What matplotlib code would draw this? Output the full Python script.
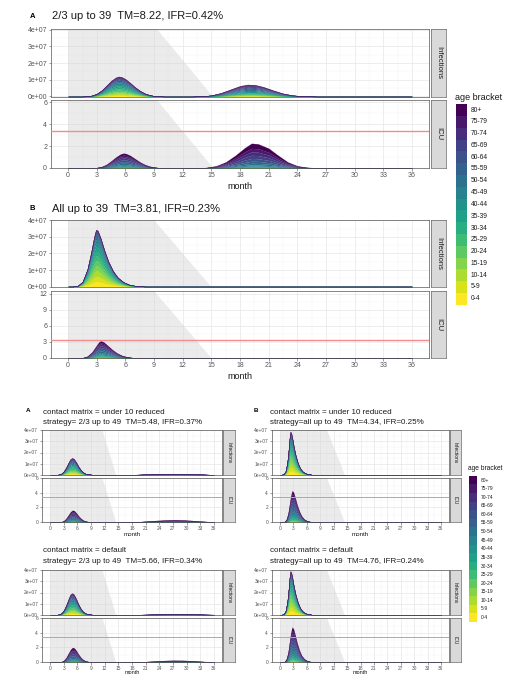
import numpy as np
import matplotlib
matplotlib.use('Agg')
import matplotlib.pyplot as plt
from matplotlib.patches import Polygon, Rectangle
import matplotlib.transforms as mtransforms

plt.rcParams['font.family'] = ['Liberation Sans', 'DejaVu Sans']

W, H = 515, 674

# ---------------- data ----------------
age_brackets = ['0-4', '5-9', '10-14', '15-19', '20-24', '25-29', '30-34', '35-39',
                '40-44', '45-49', '50-54', '55-59', '60-64', '65-69', '70-74', '75-79', '80+']

month_ticks = list(range(0, 37, 3))
inf_ticks = [0, 1, 2, 3, 4]
inf_tick_labels = ['0e+00', '1e+07', '2e+07', '3e+07', '4e+07']
icu_ticks_small = [0, 2, 4, 6]
icu_ticks_big = [0, 3, 6, 9, 12]
icu_capacity = 3.4

# age shares (0-4 ... 80+)
share_inf_mixed = [0.06, 0.06, 0.065, 0.065, 0.07, 0.075, 0.075, 0.075, 0.075, 0.075, 0.07, 0.065, 0.055, 0.045, 0.035, 0.025, 0.03]
share_inf_late = [0.03, 0.03, 0.035, 0.035, 0.045, 0.05, 0.055, 0.06, 0.08, 0.085, 0.09, 0.09, 0.085, 0.075, 0.06, 0.045, 0.05]
share_inf_all = [0.09, 0.09, 0.095, 0.09, 0.09, 0.085, 0.08, 0.075, 0.065, 0.06, 0.05, 0.04, 0.03, 0.025, 0.015, 0.01, 0.01]
share_icu_mixed = [0.002, 0.002, 0.004, 0.006, 0.01, 0.015, 0.025, 0.035, 0.055, 0.075, 0.095, 0.11, 0.12, 0.12, 0.11, 0.09, 0.126]
share_icu_late = [0.001, 0.001, 0.002, 0.003, 0.005, 0.008, 0.012, 0.018, 0.03, 0.045, 0.065, 0.085, 0.11, 0.13, 0.14, 0.14, 0.205]
share_icu_all = [0.005, 0.005, 0.01, 0.015, 0.02, 0.03, 0.04, 0.05, 0.065, 0.08, 0.09, 0.1, 0.105, 0.105, 0.1, 0.08, 0.1]

# Panel A (top): 2/3 up to 39  -- infections in units of 1e7
A_inf_w1_month = [1.5, 2, 2.5, 3, 3.5, 4, 4.5, 5, 5.3, 5.6, 6, 6.5, 7, 7.5, 8, 8.5, 9, 10]
A_inf_w1_total = [0, 0.02, 0.07, 0.18, 0.38, 0.66, 0.95, 1.15, 1.2, 1.17, 1.05, 0.82, 0.57, 0.36, 0.2, 0.1, 0.04, 0]
A_inf_w2_month = [13, 14, 15, 16, 17, 18, 18.8, 19.6, 20.5, 21.5, 22.5, 23.5, 24.5, 26]
A_inf_w2_total = [0, 0.02, 0.08, 0.22, 0.43, 0.64, 0.72, 0.7, 0.57, 0.37, 0.19, 0.08, 0.03, 0]
A_icu_w1_month = [2, 2.5, 3, 3.5, 4, 4.5, 5, 5.5, 5.8, 6.1, 6.5, 7, 7.5, 8, 8.5, 9, 9.5, 10.5]
A_icu_w1_total = [0, 0.01, 0.04, 0.13, 0.33, 0.65, 1.0, 1.28, 1.35, 1.3, 1.14, 0.85, 0.56, 0.33, 0.17, 0.08, 0.03, 0]
A_icu_w2_month = [13.5, 14.5, 15.5, 16.5, 17.5, 18.5, 19.2, 19.9, 21, 22, 23, 24, 25, 26.5]
A_icu_w2_total = [0, 0.05, 0.2, 0.55, 1.15, 1.85, 2.25, 2.2, 1.8, 1.15, 0.55, 0.2, 0.06, 0]

# Panel B (top): all up to 39
B_inf_month = [0.5, 1, 1.5, 2, 2.4, 2.7, 2.9, 3.1, 3.4, 3.8, 4.2, 4.7, 5.2, 5.8, 6.4, 7, 8]
B_inf_total = [0, 0.05, 0.3, 1.05, 2.1, 3.0, 3.45, 3.4, 2.95, 2.2, 1.55, 0.95, 0.55, 0.27, 0.12, 0.05, 0]
B_icu_month = [1, 1.5, 2, 2.5, 2.9, 3.2, 3.4, 3.7, 4.1, 4.6, 5.1, 5.6, 6.1, 6.6, 7.2, 8]
B_icu_total = [0, 0.05, 0.33, 1.15, 2.2, 2.95, 3.2, 3.0, 2.4, 1.6, 0.95, 0.5, 0.24, 0.1, 0.04, 0]

# Lower left, row 1: under 10 reduced, 2/3 up to 49
C1_inf_w1_month = [1.5, 2, 2.5, 3, 3.5, 4, 4.4, 4.8, 5.2, 5.7, 6.2, 6.7, 7.2, 7.8, 8.5, 9.5]
C1_inf_w1_total = [0, 0.03, 0.12, 0.33, 0.68, 1.1, 1.4, 1.52, 1.45, 1.15, 0.78, 0.46, 0.24, 0.1, 0.03, 0]
C1_inf_w2_month = [16, 19, 22, 25, 27, 29, 31, 33, 35]
C1_inf_w2_total = [0, 0.01, 0.04, 0.08, 0.1, 0.09, 0.06, 0.03, 0.01]
C1_icu_w1_month = [2, 2.5, 3, 3.5, 4, 4.5, 4.9, 5.3, 5.8, 6.3, 6.8, 7.3, 7.9, 8.6, 9.5]
C1_icu_w1_total = [0, 0.04, 0.18, 0.5, 0.98, 1.42, 1.62, 1.55, 1.2, 0.8, 0.47, 0.24, 0.1, 0.03, 0]
C1_icu_w2_month = [15, 18, 20, 22, 24, 26, 27.5, 29, 31, 33, 35, 36]
C1_icu_w2_total = [0, 0.02, 0.07, 0.15, 0.24, 0.3, 0.32, 0.3, 0.22, 0.12, 0.05, 0.02]

# Lower left, row 2: default, 2/3 up to 49
C2_inf_w1_month = [1.5, 2, 2.5, 3, 3.5, 4, 4.4, 4.8, 5.2, 5.7, 6.2, 6.7, 7.2, 7.8, 8.5, 9.5]
C2_inf_w1_total = [0, 0.04, 0.16, 0.43, 0.88, 1.42, 1.82, 1.95, 1.85, 1.45, 0.98, 0.58, 0.3, 0.13, 0.04, 0]
C2_inf_w2_month = [17, 20, 23, 26, 28, 30, 32, 34, 36]
C2_inf_w2_total = [0, 0.01, 0.03, 0.06, 0.07, 0.06, 0.04, 0.02, 0.01]
C2_icu_w1_month = [2, 2.5, 3, 3.5, 4, 4.5, 4.9, 5.3, 5.8, 6.3, 6.8, 7.3, 7.9, 8.6, 9.5]
C2_icu_w1_total = [0, 0.05, 0.22, 0.62, 1.2, 1.75, 2.0, 1.92, 1.5, 1.0, 0.58, 0.3, 0.12, 0.04, 0]
C2_icu_w2_month = [16, 19, 21, 23, 25, 27, 29, 31, 33, 35, 36]
C2_icu_w2_total = [0, 0.02, 0.06, 0.13, 0.2, 0.25, 0.24, 0.18, 0.1, 0.04, 0.02]

# Lower right, row 1: under 10 reduced, all up to 49
D1_inf_month = [0.3, 0.8, 1.2, 1.6, 1.9, 2.1, 2.3, 2.5, 2.8, 3.1, 3.5, 4.0, 4.5, 5.0, 5.6, 6.3, 7.2]
D1_inf_total = [0, 0.05, 0.3, 1.1, 2.3, 3.3, 3.9, 3.8, 3.2, 2.5, 1.75, 1.05, 0.6, 0.32, 0.15, 0.05, 0]
D1_icu_month = [0.5, 1, 1.4, 1.8, 2.1, 2.4, 2.7, 3.0, 3.4, 3.8, 4.3, 4.8, 5.4, 6.0, 6.8, 7.5]
D1_icu_total = [0, 0.05, 0.35, 1.2, 2.4, 3.6, 4.3, 4.1, 3.3, 2.4, 1.5, 0.85, 0.4, 0.18, 0.05, 0]

# Lower right, row 2: default, all up to 49
D2_inf_month = [0.3, 0.8, 1.2, 1.6, 1.9, 2.1, 2.3, 2.5, 2.8, 3.1, 3.5, 4.0, 4.5, 5.0, 5.6, 6.3, 7.2]
D2_inf_total = [0, 0.05, 0.32, 1.15, 2.35, 3.35, 3.95, 3.85, 3.25, 2.55, 1.8, 1.1, 0.62, 0.33, 0.15, 0.05, 0]
D2_icu_month = [0.5, 1, 1.4, 1.8, 2.1, 2.4, 2.7, 3.0, 3.4, 3.8, 4.3, 4.8, 5.4, 6.0, 6.8, 7.5]
D2_icu_total = [0, 0.06, 0.4, 1.35, 2.7, 4.0, 4.8, 4.55, 3.65, 2.65, 1.65, 0.92, 0.44, 0.2, 0.06, 0]

# vaccination-period shading: (month at top edge, month at bottom edge)
shade_A = (9.3, 15.2)
shade_B = (9.0, 15.0)
shade_C = (11.5, 14.5)
shade_D = (10.5, 14.5)

titles_top = ['2/3 up to 39  TM=8.22, IFR=0.42%', 'All up to 39  TM=3.81, IFR=0.23%']
titles_small = [
    ('contact matrix = under 10 reduced', 'strategy= 2/3 up to 49  TM=5.48, IFR=0.37%'),
    ('contact matrix = under 10 reduced', 'strategy=all up to 49  TM=4.34, IFR=0.25%'),
    ('contact matrix = default', 'strategy= 2/3 up to 49  TM=5.66, IFR=0.34%'),
    ('contact matrix = default', 'strategy=all up to 49  TM=4.76, IFR=0.24%'),
]

# ---------------- drawing ----------------
colors = plt.cm.viridis(np.linspace(1, 0, len(age_brackets)))  # 0-4 yellow ... 80+ purple

fig = plt.figure(figsize=(W / 100, H / 100), dpi=100)


def add_ax(x0, y0, x1, y1):
    return fig.add_axes([x0 / W, 1 - y1 / H, (x1 - x0) / W, (y1 - y0) / H])


def draw_facet(ax, waves, ylim, yticks, ylabels, shade, fs, show_x, capacity=None, lw=0.8):
    months = [0.0]
    rows = [np.zeros(len(age_brackets))]
    for m, t, s in waves:
        s = np.asarray(s, float) / np.sum(s)
        months += list(m)
        rows += list(np.outer(t, s))
    months.append(36.0)
    rows.append(np.zeros(len(age_brackets)))
    vals = np.array(rows).T
    ax.set_axisbelow(True)
    trans = mtransforms.blended_transform_factory(ax.transData, ax.transAxes)
    ax.add_patch(Polygon([(0, 0), (0, 1), (shade[0], 1), (shade[1], 0)], closed=True,
                         transform=trans, facecolor='#d4d4d4', alpha=0.45,
                         edgecolor='none', zorder=1))
    polys = ax.stackplot(months, vals, colors=colors, zorder=2)
    for p, c in zip(polys, colors):
        p.set_edgecolor(c)
        p.set_linewidth(0.1)
    if capacity is not None:
        ax.axhline(capacity, color='#f28b8b', lw=lw, zorder=3)
    ax.set_xlim(-1.8, 37.8)
    ax.set_ylim(*ylim)
    ax.set_xticks(month_ticks)
    ax.set_xticks(np.arange(1.5, 37, 3), minor=True)
    ax.set_yticks(yticks)
    ax.set_yticklabels(ylabels)
    ystep = yticks[1] - yticks[0]
    ax.set_yticks(np.arange(ystep / 2, ylim[1], ystep), minor=True)
    ax.grid(which='major', color='#e6e6e6', lw=0.5)
    ax.grid(which='minor', color='#f2f2f2', lw=0.3)
    ax.tick_params(which='minor', length=0)
    ax.tick_params(which='major', length=1.8, width=0.4, color='#555555',
                   labelsize=fs, labelcolor='#555555', pad=1)
    if not show_x:
        ax.tick_params(axis='x', labelbottom=False, length=0)
    for sp in ax.spines.values():
        sp.set_color('#555555')
        sp.set_linewidth(0.5)


def draw_strip(x0, y0, x1, y1, text, fs):
    s = add_ax(x0, y0, x1, y1)
    s.set_facecolor('#d9d9d9')
    s.set_xticks([])
    s.set_yticks([])
    for sp in s.spines.values():
        sp.set_color('#666666')
        sp.set_linewidth(0.5)
    s.text(0.5, 0.5, text, rotation=270, ha='center', va='center', fontsize=fs,
           color='#1a1a1a', transform=s.transAxes)


def panel(x0, x1, sx0, sx1, yi0, yi1, yc0, yc1, inf_waves, icu_waves, icu_ylim, icu_ticks,
          shade, fs_tick, fs_strip, fs_xlab, lw, lpad):
    ai = add_ax(x0, yi0, x1, yi1)
    draw_facet(ai, inf_waves, (-0.03, 4.03), inf_ticks, inf_tick_labels, shade, fs_tick, False)
    ac = add_ax(x0, yc0, x1, yc1)
    draw_facet(ac, icu_waves, icu_ylim, icu_ticks, [str(v) for v in icu_ticks], shade, fs_tick,
               True, capacity=icu_capacity, lw=lw)
    ac.set_xlabel('month', fontsize=fs_xlab, color='#1a1a1a', labelpad=lpad)
    draw_strip(sx0, yi0, sx1, yi1, 'Infections', fs_strip)
    draw_strip(sx0, yc0, sx1, yc1, 'ICU', fs_strip)


# Top panels
panel(51, 429, 431, 446, 29, 97, 100, 168,
      [(A_inf_w1_month, A_inf_w1_total, share_inf_mixed), (A_inf_w2_month, A_inf_w2_total, share_inf_late)],
      [(A_icu_w1_month, A_icu_w1_total, share_icu_mixed), (A_icu_w2_month, A_icu_w2_total, share_icu_late)],
      (0, 6.2), icu_ticks_small, shade_A, 5, 5.5, 6.5, 1.0, 2)
panel(51, 429, 431, 446, 220, 287, 291, 358,
      [(B_inf_month, B_inf_total, share_inf_all)],
      [(B_icu_month, B_icu_total, share_icu_all)],
      (0, 12.5), icu_ticks_big, shade_B, 5, 5.5, 6.5, 1.0, 2)

# Lower panels
panel(42, 222, 223, 235, 430, 475, 478, 522,
      [(C1_inf_w1_month, C1_inf_w1_total, share_inf_mixed), (C1_inf_w2_month, C1_inf_w2_total, share_inf_late)],
      [(C1_icu_w1_month, C1_icu_w1_total, share_icu_mixed), (C1_icu_w2_month, C1_icu_w2_total, share_icu_late)],
      (0, 6.05), icu_ticks_small, shade_C, 3.5, 3.5, 4.5, 0.7, 0.5)
panel(42, 222, 223, 235, 570, 615, 618, 662,
      [(C2_inf_w1_month, C2_inf_w1_total, share_inf_mixed), (C2_inf_w2_month, C2_inf_w2_total, share_inf_late)],
      [(C2_icu_w1_month, C2_icu_w1_total, share_icu_mixed), (C2_icu_w2_month, C2_icu_w2_total, share_icu_late)],
      (0, 6.05), icu_ticks_small, shade_C, 3.5, 3.5, 4.0, 0.7, -1.0)
panel(272, 449, 450, 461, 430, 475, 478, 522,
      [(D1_inf_month, D1_inf_total, share_inf_all)],
      [(D1_icu_month, D1_icu_total, share_icu_all)],
      (0, 6.05), icu_ticks_small, shade_D, 3.5, 3.5, 4.5, 0.7, 0.5)
panel(272, 449, 450, 461, 570, 615, 618, 662,
      [(D2_inf_month, D2_inf_total, share_inf_all)],
      [(D2_icu_month, D2_icu_total, share_icu_all)],
      (0, 6.05), icu_ticks_small, shade_D, 3.5, 3.5, 4.0, 0.7, -1.0)

# Overlay for texts and legends (pixel coordinates)
ov = fig.add_axes([0, 0, 1, 1])
ov.set_xlim(0, W)
ov.set_ylim(H, 0)
ov.axis('off')

ov.text(30, 16, 'A', fontsize=5.5, fontweight='bold', ha='left', va='center')
ov.text(52, 16, titles_top[0], fontsize=8, ha='left', va='center', color='#1a1a1a')
ov.text(30, 209, 'B', fontsize=5.5, fontweight='bold', ha='left', va='center')
ov.text(52, 209, titles_top[1], fontsize=8, ha='left', va='center', color='#1a1a1a')

ov.text(26, 411, 'A', fontsize=4.5, fontweight='bold', ha='left', va='center')
ov.text(254, 411, 'B', fontsize=4.5, fontweight='bold', ha='left', va='center')
small_pos = [(43, 412), (270, 412), (43, 551), (270, 551)]
for (tx, ty), (l1, l2) in zip(small_pos, titles_small):
    ov.text(tx, ty, l1, fontsize=5.8, ha='left', va='center', color='#1a1a1a')
    ov.text(tx, ty + 10.5, l2, fontsize=5.8, ha='left', va='center', color='#1a1a1a')


def legend(x0, y_title, y_first, step, sq_w, fs_title, fs_lab):
    ov.text(x0, y_title, 'age bracket', fontsize=fs_title, ha='left', va='center', color='#1a1a1a')
    n = len(age_brackets)
    for i in range(n):
        k = n - 1 - i  # 80+ first
        yc = y_first + i * step
        ov.add_patch(Rectangle((x0 + 1, yc - step / 2), sq_w, step, facecolor=colors[k],
                               edgecolor='none'))
        ov.text(x0 + sq_w + 5, yc, age_brackets[k], fontsize=fs_lab, ha='left', va='center',
                color='#1a1a1a')


legend(455, 97, 110, 11.8, 11, 6.5, 4.8)
legend(468, 469, 480, 8.6, 8, 4.8, 3.5)

fig.savefig('out.png', dpi=100)
